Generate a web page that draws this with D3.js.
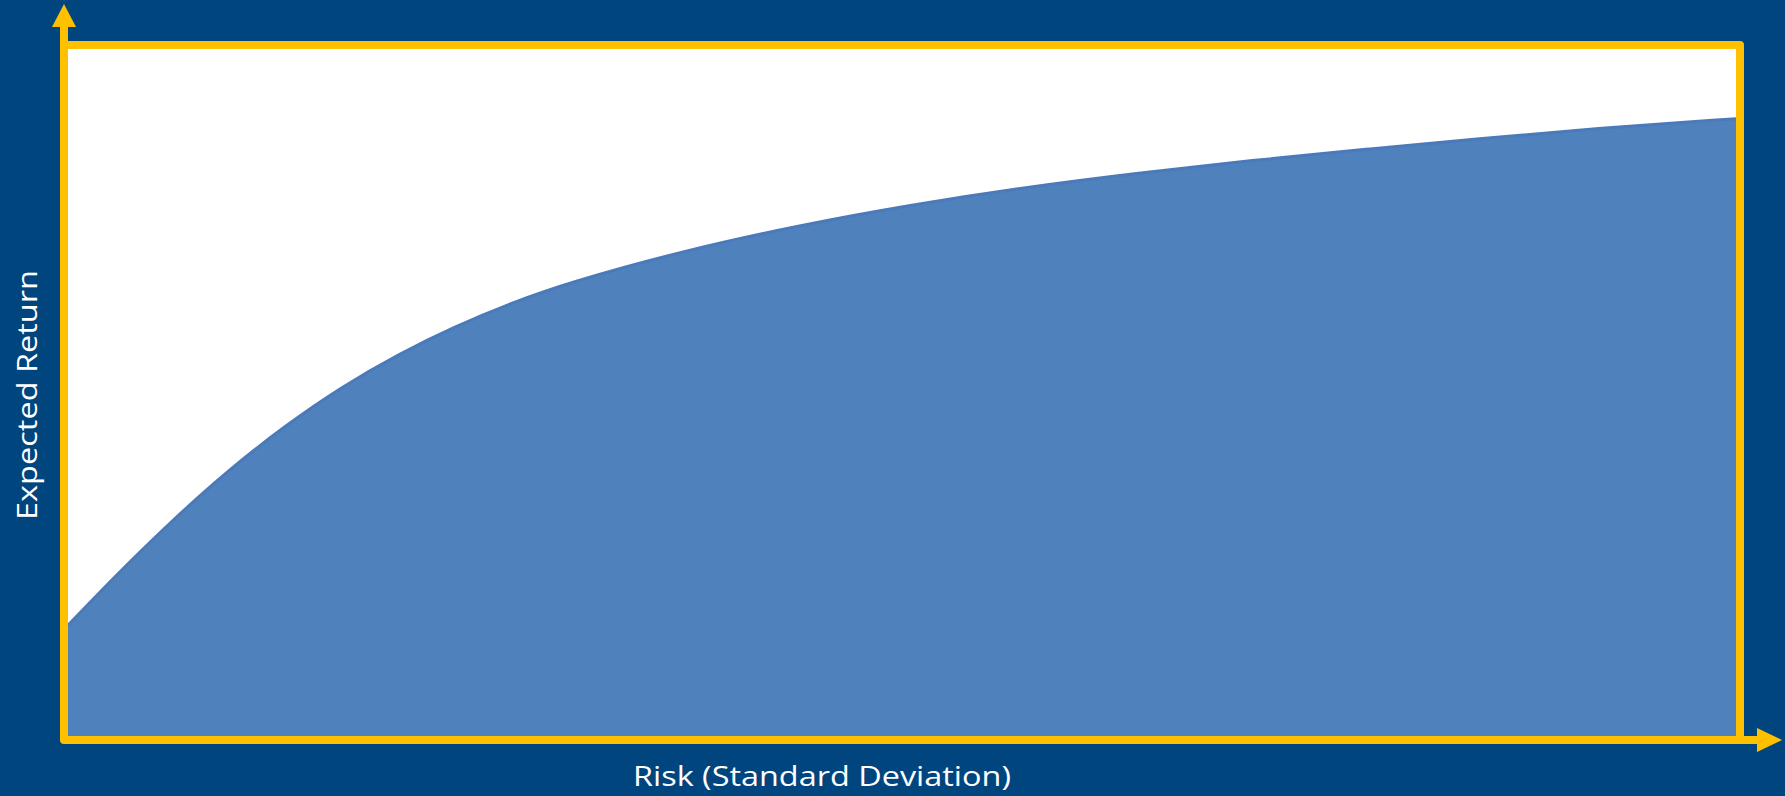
<!DOCTYPE html>
<html>
<head>
<meta charset="utf-8">
<script src="https://cdn.jsdelivr.net/npm/d3@7"></script>
<style>
  html, body { margin: 0; padding: 0; background: #01457f; overflow: hidden; }
  .axisText { fill: #ffffff; font-family: "Open Sans", "Liberation Sans", sans-serif; font-size: 28px; }
</style>
</head>
<body>
<div id="chart"></div>
<script>
// Efficient frontier style chart: risk vs expected return

// risk values (x) and expected return values (y)
var riskValues   = [0, 2.75, 6.2, 9.6, 13.0, 16.4, 19.8, 23.2, 26.6, 30.0, 36.9, 43.7, 50.5, 57.3, 64.2, 71.0, 77.8, 84.6, 91.5, 100];
var returnValues = [16.5, 23.4, 31.5, 38.8, 45.2, 50.8, 55.5, 59.5, 62.9, 65.8, 70.4, 74.0, 77.0, 79.5, 81.6, 83.4, 85.0, 86.5, 88.0, 89.4];

var xLabel = "Risk (Standard Deviation)";
var yLabel = "Expected Return";

var svgWidth = 1785;
var svgHeight = 796;

// frame edges (centre of the yellow strokes)
var frame = { left: 64, right: 1740, top: 45, bottom: 740 };
var strokeW = 8;

var yellow = "#ffc000";

var svg = d3.select("#chart")
    .append("svg")
    .attr("width", svgWidth)
    .attr("height", svgHeight);

svg.append("rect")
    .attr("width", svgWidth)
    .attr("height", svgHeight)
    .attr("fill", "#01457f");

// scales
var xScale = d3.scaleLinear()
    .domain([0, 100])
    .range([frame.left + strokeW / 2, frame.right - strokeW / 2]);

var yScale = d3.scaleLinear()
    .domain([0, 100])
    .range([frame.bottom, frame.top]);

var data = riskValues.map(function(r, i) { return { risk: r, ret: returnValues[i] }; });

// white plot background
svg.append("rect")
    .attr("x", frame.left)
    .attr("y", frame.top)
    .attr("width", frame.right - frame.left)
    .attr("height", frame.bottom - frame.top)
    .attr("fill", "#ffffff");

// filled area under the curve
var area = d3.area()
    .x(d => xScale(d.risk))
    .y0(yScale(0))
    .y1(d => yScale(d.ret))
    .curve(d3.curveBasis);

svg.append("path")
    .datum(data)
    .attr("d", area)
    .attr("fill", "#4f81bd");

// darker edge along the top of the shape
var line = d3.line()
    .x(d => xScale(d.risk))
    .y(d => yScale(d.ret))
    .curve(d3.curveBasis);

svg.append("path")
    .datum(data)
    .attr("d", line)
    .attr("fill", "none")
    .attr("stroke", "#4a7aba")
    .attr("stroke-width", 3);

// yellow frame
svg.append("rect")
    .attr("x", frame.left)
    .attr("y", frame.top)
    .attr("width", frame.right - frame.left)
    .attr("height", frame.bottom - frame.top)
    .attr("fill", "none")
    .attr("stroke", yellow)
    .attr("stroke-width", strokeW)
    .attr("stroke-linejoin", "round");

// y axis line going up to the arrow
svg.append("line")
    .attr("x1", frame.left).attr("x2", frame.left)
    .attr("y1", frame.bottom).attr("y2", 24)
    .attr("stroke", yellow)
    .attr("stroke-width", strokeW);

svg.append("path")
    .attr("d", `M${frame.left - 12},27 L${frame.left},4 L${frame.left + 12},27 Z`)
    .attr("fill", yellow);

// x axis line going right to the arrow
svg.append("line")
    .attr("x1", frame.left).attr("x2", 1760)
    .attr("y1", frame.bottom).attr("y2", frame.bottom)
    .attr("stroke", yellow)
    .attr("stroke-width", strokeW);

svg.append("path")
    .attr("d", `M1757,${frame.bottom - 12} L1782,${frame.bottom} L1757,${frame.bottom + 12} Z`)
    .attr("fill", yellow);

// axis labels
svg.append("text")
    .attr("class", "axisText")
    .attr("x", 822)
    .attr("y", 786)
    .attr("text-anchor", "middle")
    .attr("textLength", 378)
    .attr("lengthAdjust", "spacingAndGlyphs")
    .text(xLabel);

svg.append("text")
    .attr("class", "axisText")
    .attr("transform", "translate(37,395) rotate(-90)")
    .attr("text-anchor", "middle")
    .attr("textLength", 250)
    .attr("lengthAdjust", "spacingAndGlyphs")
    .text(yLabel);
</script>
</body>
</html>
